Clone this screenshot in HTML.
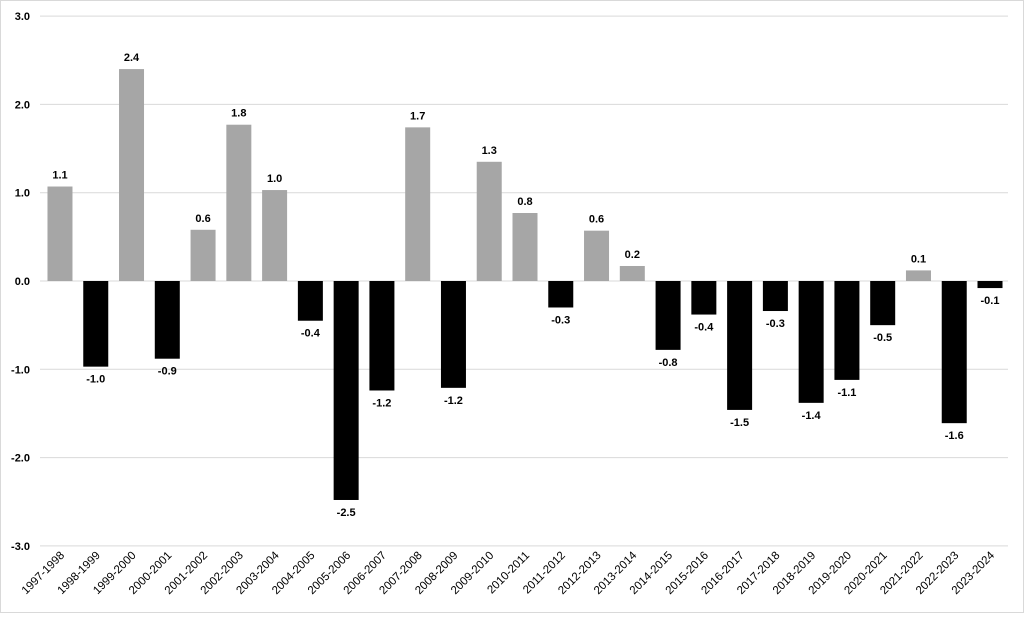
<!DOCTYPE html><html><head><style>body{margin:0;background:#fff}</style></head><body>
<svg width="1024" height="614" xmlns="http://www.w3.org/2000/svg" font-family="Liberation Sans, sans-serif">
<rect x="0.5" y="0.5" width="1023" height="612" fill="#fff" stroke="#d9d9d9"/>
<g id="g"></g>
</svg>
<script>
const vals=[1.07,-0.97,2.4,-0.88,0.58,1.77,1.03,-0.45,-2.48,-1.24,1.74,-1.21,1.35,0.77,-0.3,0.57,0.17,-0.78,-0.38,-1.46,-0.34,-1.38,-1.12,-0.5,0.12,-1.61,-0.08];
const labs=["1.1","-1.0","2.4","-0.9","0.6","1.8","1.0","-0.4","-2.5","-1.2","1.7","-1.2","1.3","0.8","-0.3","0.6","0.2","-0.8","-0.4","-1.5","-0.3","-1.4","-1.1","-0.5","0.1","-1.6","-0.1"];
const z=281,u=88.3,x0=42.1,cw=35.77;let s="";
for(let i=-3;i<=3;i++){const y=z-i*u;s+=`<line x1="40" x2="1008" y1="${y}" y2="${y}" stroke="#d9d9d9"/>`;
s+=`<text x="30" y="${y+4}" font-size="11" font-weight="bold" text-anchor="end">${i.toFixed(1)}</text>`;}
vals.forEach((v,i)=>{const c=x0+cw*(i+0.5),w=25,h=Math.abs(v)*u;
const y=v>0?z-h:z;s+=`<rect x="${c-w/2}" y="${y}" width="${w}" height="${h}" fill="${v>0?'#a6a6a6':'#000'}"/>`;
const ly=v>0?z-h-8:z+h+16;s+=`<text x="${c}" y="${ly}" font-size="11" font-weight="bold" text-anchor="middle">${labs[i]}</text>`;
const yr=1997+i;s+=`<text transform="translate(${c+5},556) rotate(-45)" font-size="11.5" text-anchor="end">${yr}-${yr+1}</text>`;});
document.getElementById('g').innerHTML=s;
</script>
</body></html>
